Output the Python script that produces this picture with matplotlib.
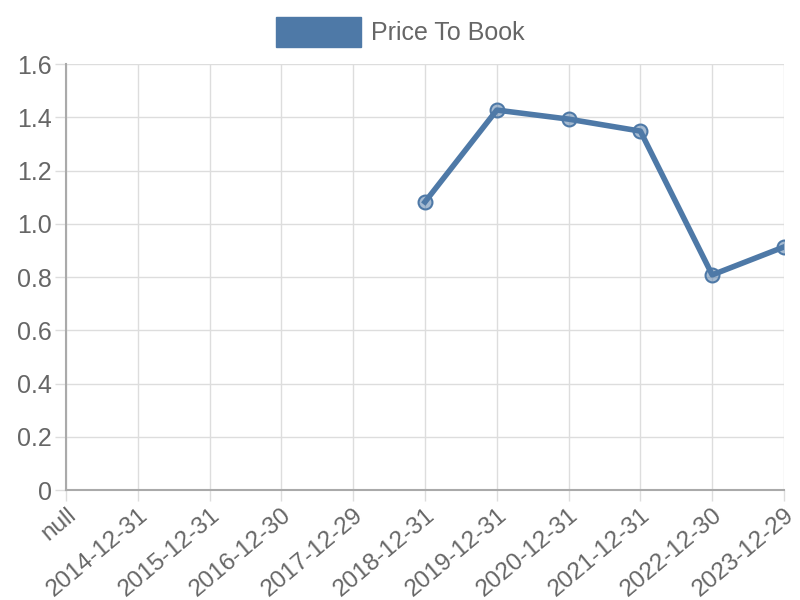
import matplotlib
matplotlib.use("Agg")
import matplotlib.pyplot as plt
import matplotlib.patches as mpatches
import numpy as np

# Chart data
dates = ["null", "2014-12-31", "2015-12-31", "2016-12-30", "2017-12-29",
         "2018-12-31", "2019-12-31", "2020-12-31", "2021-12-31",
         "2022-12-30", "2023-12-29"]
price_to_book = [np.nan, np.nan, np.nan, np.nan, np.nan,
                 1.082, 1.427, 1.393, 1.348, 0.808, 0.913]
y_ticks = [0, 0.2, 0.4, 0.6, 0.8, 1.0, 1.2, 1.4, 1.6]
y_tick_labels = ["0", "0.2", "0.4", "0.6", "0.8", "1.0", "1.2", "1.4", "1.6"]

plt.rcParams["font.family"] = ["Liberation Sans", "DejaVu Sans"]
text_color = "#666666"
line_color = "#4e79a7"

fig = plt.figure(figsize=(8, 6), dpi=100)
ax = fig.add_axes([0.0825, 0.1833, 0.8975, 0.71])

x = np.arange(len(dates))
ax.plot(x, price_to_book, color=line_color, linewidth=4, zorder=3,
        marker="o", markersize=10, markerfacecolor=(0.306, 0.475, 0.655, 0.5),
        markeredgecolor=line_color, markeredgewidth=1.5)

ax.set_xlim(0, len(dates) - 1)
ax.set_ylim(0, 1.6)
ax.set_xticks(x)
ax.set_xticklabels(dates, rotation=40, ha="right", rotation_mode="anchor",
                   fontsize=17.5, color=text_color)
ax.set_yticks(y_ticks)
ax.set_yticklabels(y_tick_labels, fontsize=18, color=text_color)

ax.grid(True, color="#dddddd", linewidth=1)
ax.set_axisbelow(True)
ax.tick_params(axis="both", length=8, width=1, color="#dddddd", pad=2)
for side in ["top", "right"]:
    ax.spines[side].set_visible(False)
for side in ["left", "bottom"]:
    ax.spines[side].set_color("#aaaaaa")
    ax.spines[side].set_linewidth(1.5)

handle = mpatches.Patch(facecolor=line_color, edgecolor=line_color)
fig.legend([handle], ["Price To Book"], loc="upper center",
           bbox_to_anchor=(0.5, 1.01), frameon=False, fontsize=18,
           labelcolor=text_color, handlelength=3.4, handleheight=1.5,
           handletextpad=0.4)

plt.savefig("out.png", dpi=100)
